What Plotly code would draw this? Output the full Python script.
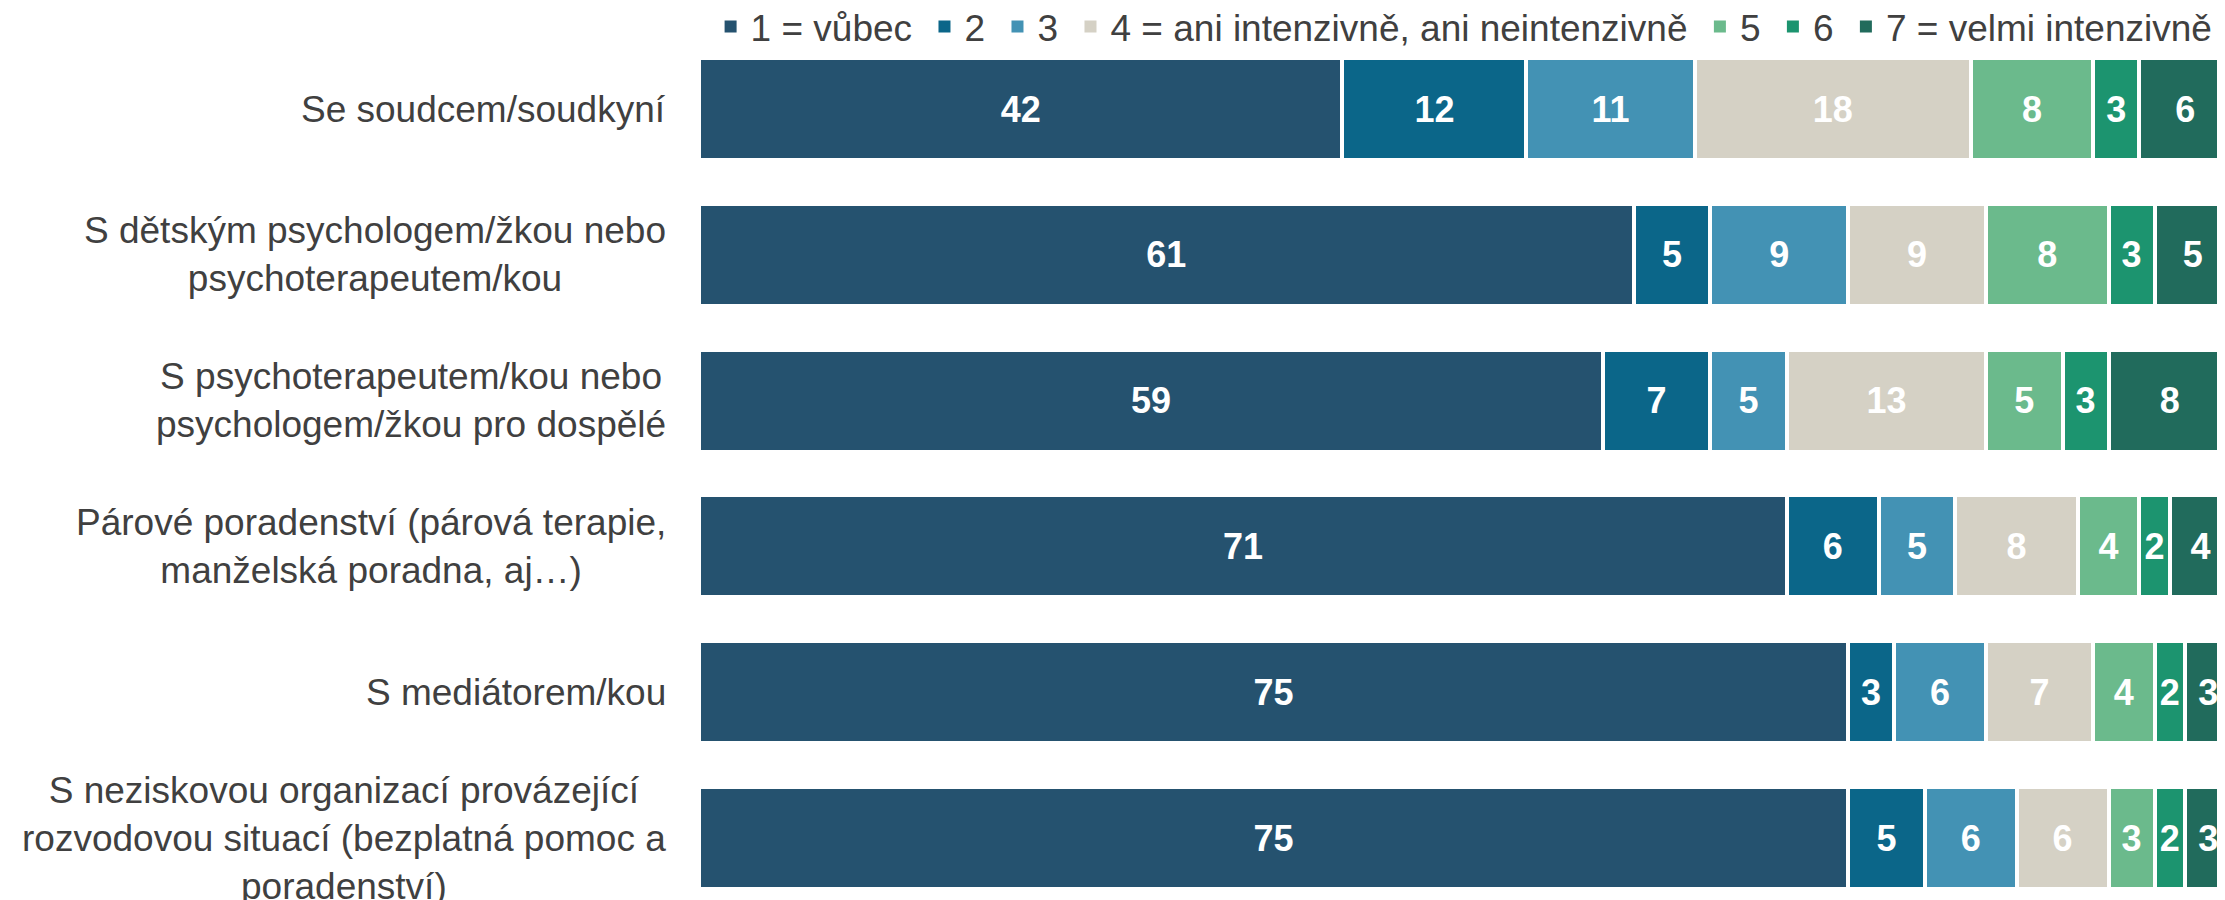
import plotly.graph_objects as go

categories = [
    "Se soudcem/soudkyní",
    "S dětským psychologem/žkou nebo<br>psychoterapeutem/kou",
    "S psychoterapeutem/kou nebo<br>psychologem/žkou pro dospělé",
    "Párové poradenství (párová terapie,<br>manželská poradna, aj…)",
    "S mediátorem/kou",
    "S neziskovou organizací provázející<br>rozvodovou situací (bezplatná pomoc a<br>poradenství)",
]

series_names = [
    "1 = vůbec",
    "2",
    "3",
    "4 = ani intenzivně, ani neintenzivně",
    "5",
    "6",
    "7 = velmi intenzivně",
]

v1 = [42, 61, 59, 71, 75, 75]
v2 = [12, 5, 7, 6, 3, 5]
v3 = [11, 9, 5, 5, 6, 6]
v4 = [18, 9, 13, 8, 7, 6]
v5 = [8, 8, 5, 4, 4, 3]
v6 = [3, 3, 3, 2, 2, 2]
v7 = [6, 5, 8, 4, 3, 3]

colors = ["#25526f", "#0b6689", "#4392b4", "#d5d1c5", "#6bba8c", "#1c946f", "#216b5c"]
FONT = "Liberation Sans, Arial"

fig = go.Figure()
for name, vals, col in zip(series_names, [v1, v2, v3, v4, v5, v6, v7], colors):
    fig.add_trace(go.Bar(
        y=categories, x=vals, name=name, orientation="h", showlegend=False,
        marker=dict(color=col, line=dict(color="white", width=4)),
        text=vals, texttemplate="%{text}", textposition="inside",
        insidetextanchor="middle", constraintext="none",
        textfont=dict(color="white", size=36, family=FONT, weight="bold"),
    ))

# legend-only entries (no white outline so the swatches stay full size)
# a thin space after each name widens the gap between entries a little
for i, (name, col) in enumerate(zip(series_names, colors)):
    label = name if i == len(series_names) - 1 else name + "\u2009"
    fig.add_trace(go.Bar(
        y=[None], x=[None], name=label, orientation="h",
        marker=dict(color=col, line=dict(width=0)),
    ))

# category labels as annotations so multi-line text is centred
for c in categories:
    fig.add_annotation(
        x=0, xref="paper", y=c, yref="y", text=c, showarrow=False,
        xanchor="right", xshift=-31, align="center",
        font=dict(size=37, color="#404040", family=FONT),
    )

fig.update_layout(
    barmode="stack",
    bargap=0.30,
    width=2225, height=900,
    margin=dict(l=691, r=8, t=0, b=8, autoexpand=False),
    plot_bgcolor="white", paper_bgcolor="white",
    font=dict(family=FONT, color="#404040"),
    legend=dict(
        orientation="h", x=0.0076, xanchor="left", y=1.0134, yanchor="top",
        traceorder="normal",
        font=dict(size=37, color="#404040", family=FONT), itemwidth=30,
        bgcolor="rgba(0,0,0,0)",
    ),
    xaxis=dict(range=[0, 99.6], visible=False),
    yaxis=dict(range=[5.4252, -0.6927], showticklabels=False, showgrid=False,
               zeroline=False, showline=False),
)

fig.write_html("out.html")
